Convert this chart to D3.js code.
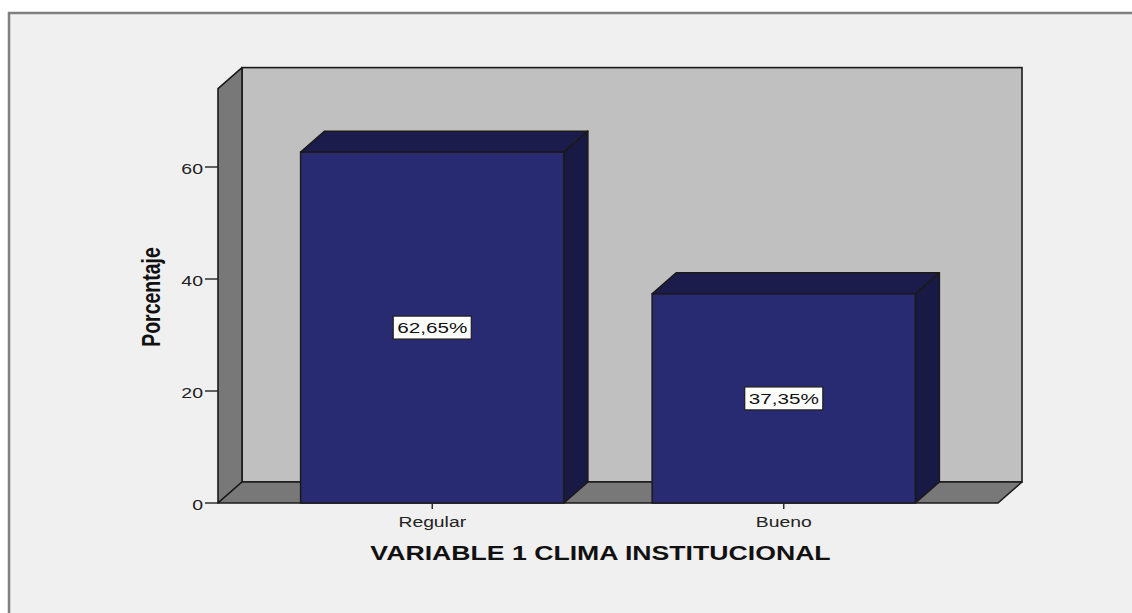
<!DOCTYPE html>
<html>
<head>
<meta charset="utf-8">
<script src="https://cdn.jsdelivr.net/npm/d3@7"></script>
<style>
  html, body { margin: 0; padding: 0; background: #ffffff; }
  svg { display: block; }
  text { font-family: "Liberation Sans", Arial, sans-serif; }
</style>
</head>
<body>
<svg id="chart" width="1132" height="613"></svg>
<script>
const categories = ["Regular", "Bueno"];
const percentages = [62.65, 37.35];
const valueLabels = ["62,65%", "37,35%"];
const yTicks = [0, 20, 40, 60];
const xTitle = "VARIABLE 1 CLIMA INSTITUCIONAL";
const yTitle = "Porcentaje";

const svg = d3.select("#chart");
const W = 1132, H = 613;
const SX = 1.38; // horizontal stretch of the original picture's text

// outer frame
svg.append("rect").attr("x", 0).attr("y", 0).attr("width", W).attr("height", H).attr("fill", "#ffffff");
svg.append("rect").attr("x", 9).attr("y", 13).attr("width", W + 20).attr("height", H + 20)
  .attr("fill", "#f0f0f0").attr("stroke", "#808080").attr("stroke-width", 2.5);

// geometry
const x0 = 218, x1 = 998, yBottom = 503, yTop = 88.6;
const dx = 24, dy = 21;
const y = d3.scaleLinear().domain([0, 74]).range([yBottom, yTop]);
const x = d3.scaleBand().domain(categories).range([x0, x1]).paddingInner(0.251).paddingOuter(0.235);

const lineCol = "#1a1a1a";
const g = svg.append("g");

// back wall
g.append("rect").attr("x", x0 + dx).attr("y", yTop - dy).attr("width", x1 - x0).attr("height", yBottom - yTop)
  .attr("fill", "#c0c0c0").attr("stroke", lineCol).attr("stroke-width", 1.6);
// left wall
g.append("polygon").attr("points", [[x0, yTop], [x0 + dx, yTop - dy], [x0 + dx, yBottom - dy], [x0, yBottom]].join(" "))
  .attr("fill", "#787878").attr("stroke", lineCol).attr("stroke-width", 1.6).attr("stroke-linejoin", "round");
// floor
g.append("polygon").attr("points", [[x0, yBottom], [x0 + dx, yBottom - dy], [x1 + dx, yBottom - dy], [x1, yBottom]].join(" "))
  .attr("fill", "#787878").attr("stroke", lineCol).attr("stroke-width", 1.6).attr("stroke-linejoin", "round");

// bars
const data = categories.map((c, i) => ({ c, v: percentages[i], label: valueLabels[i] }));
const bars = g.selectAll("g.bar").data(data).enter().append("g").attr("class", "bar");
bars.append("polygon") // top
  .attr("points", d => {
    const l = x(d.c), r = l + x.bandwidth(), t = y(d.v);
    return [[l, t], [l + dx, t - dy], [r + dx, t - dy], [r, t]].join(" ");
  })
  .attr("fill", "#1b1c4b").attr("stroke", lineCol).attr("stroke-width", 1.5).attr("stroke-linejoin", "round");
bars.append("polygon") // side
  .attr("points", d => {
    const r = x(d.c) + x.bandwidth(), t = y(d.v);
    return [[r, t], [r + dx, t - dy], [r + dx, yBottom - dy], [r, yBottom]].join(" ");
  })
  .attr("fill", "#181944").attr("stroke", lineCol).attr("stroke-width", 1.5).attr("stroke-linejoin", "round");
bars.append("rect") // front
  .attr("x", d => x(d.c)).attr("y", d => y(d.v))
  .attr("width", x.bandwidth()).attr("height", d => yBottom - y(d.v))
  .attr("fill", "#282a72").attr("stroke", lineCol).attr("stroke-width", 1.5);

// value labels
bars.each(function(d) {
  const gg = d3.select(this);
  const cx = x(d.c) + x.bandwidth() / 2, cy = (y(d.v) + yBottom) / 2;
  const box = gg.append("rect");
  const t = gg.append("text").attr("transform", `translate(${cx},${cy + 5.5}) scale(${SX},1)`)
    .attr("text-anchor", "middle").attr("font-size", 15).attr("fill", "#111").text(d.label);
  const w = t.node().getComputedTextLength() * SX;
  box.attr("x", cx - w / 2 - 4).attr("y", cy - 11.5).attr("width", w + 8).attr("height", 23)
    .attr("fill", "#ffffff").attr("stroke", "#222").attr("stroke-width", 1.3);
});

// y axis ticks
const yAxis = svg.append("g");
yAxis.selectAll("line").data(yTicks).enter().append("line")
  .attr("x1", x0 - 13).attr("x2", x0).attr("y1", d => y(d)).attr("y2", d => y(d))
  .attr("stroke", "#222").attr("stroke-width", 1.4);
yAxis.selectAll("text").data(yTicks).enter().append("text")
  .attr("transform", d => `translate(${x0 - 15},${y(d) + 7}) scale(1.3,1)`).attr("text-anchor", "end")
  .attr("font-size", 15).attr("fill", "#222").text(d => d);

// x axis ticks
const xAxis = svg.append("g");
xAxis.selectAll("line").data(categories).enter().append("line")
  .attr("x1", d => x(d) + x.bandwidth() / 2).attr("x2", d => x(d) + x.bandwidth() / 2)
  .attr("y1", yBottom).attr("y2", yBottom + 6).attr("stroke", "#222").attr("stroke-width", 1.4);
xAxis.selectAll("text").data(categories).enter().append("text")
  .attr("transform", d => `translate(${x(d) + x.bandwidth() / 2},527) scale(${SX},1)`).attr("text-anchor", "middle")
  .attr("font-size", 14).attr("fill", "#222").text(d => d);

// titles
svg.append("text").attr("transform", "translate(600.5,560) scale(1.3,1)").attr("text-anchor", "middle")
  .attr("font-size", 20.5).attr("font-weight", "bold").attr("fill", "#111").text(xTitle);
svg.append("text").attr("transform", `translate(160,297) scale(1.35,1) rotate(-90)`).attr("text-anchor", "middle")
  .attr("font-size", 19.5).attr("font-weight", "bold").attr("fill", "#111").text(yTitle);
</script>
</body>
</html>
